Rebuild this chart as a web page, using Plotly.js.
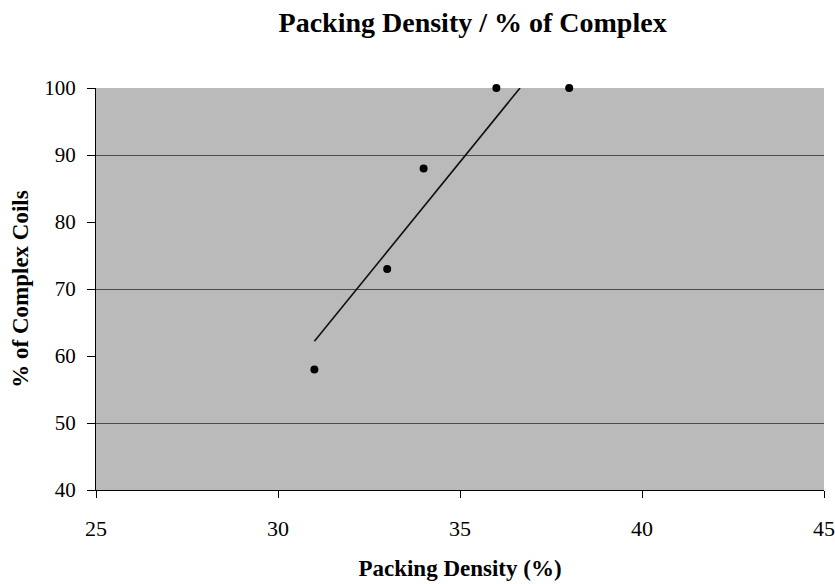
<!DOCTYPE html>
<html>
<head>
<meta charset="utf-8">
<script src="https://cdn.plot.ly/plotly-3.0.1.min.js"></script>
<style>html,body{margin:0;padding:0;background:#fff;}#chart{width:835px;height:584px;}</style>
</head>
<body>
<div id="chart"></div>
<script>
// Data
const packingDensity = [31, 33, 34, 36, 38];
const complexCoils = [58, 73, 88, 100, 100];
// Trend line endpoints as drawn in the reference
const trendX = [31, 36.65];
const trendY = [62.2, 100];
// Axis ticks
const xTicks = [25, 30, 35, 40, 45];
const yTicks = [40, 50, 60, 70, 80, 90, 100];
const yGrid = [50, 70, 90, 100];

const serif = '"Liberation Serif", "Times New Roman", serif';

const traces = [
  {
    x: trendX, y: trendY, type: 'scatter', mode: 'lines',
    line: {color: '#111', width: 1.6}, hoverinfo: 'skip', showlegend: false
  },
  {
    x: packingDensity, y: complexCoils, type: 'scatter', mode: 'markers',
    marker: {color: '#000', size: 8}, cliponaxis: false, showlegend: false
  },
  {
    x: [], y: [], yaxis: 'y2', type: 'scatter', showlegend: false
  }
];

const layout = {
  width: 835, height: 584,
  margin: {l: 96, r: 11, t: 88, b: 94},
  paper_bgcolor: '#ffffff',
  plot_bgcolor: '#bababa',
  showlegend: false,
  font: {family: serif, color: '#000', size: 18},
  title: {
    text: '<b>Packing Density / % of Complex</b>',
    font: {family: serif, size: 28, color: '#000'},
    x: 0.566, xanchor: 'center', y: 0.962, yanchor: 'middle'
  },
  xaxis: {
    range: [25, 45], tickvals: xTicks, ticktext: xTicks.map(String),
    ticks: 'outside', ticklen: 7, tickcolor: '#000', tickwidth: 1,
    showline: true, linecolor: '#000', linewidth: 1, mirror: false,
    showgrid: false, zeroline: false, ticklabelstandoff: 12,
    tickfont: {family: serif, size: 22, color: '#000'},
    title: {text: '<b>Packing Density (%)</b>', font: {family: serif, size: 23, color: '#000'}, standoff: 19}
  },
  yaxis: {
    range: [40, 100], tickvals: yTicks, ticktext: yTicks.map(String),
    ticks: 'outside', ticklen: 8, tickcolor: '#000', tickwidth: 1,
    showline: true, linecolor: '#000', linewidth: 1,
    showgrid: false, zeroline: false, ticklabelstandoff: 7,
    tickfont: {family: serif, size: 21, color: '#000'},
    title: {text: '<b>% of Complex Coils</b>', font: {family: serif, size: 23, color: '#000'}, standoff: 9}
  },
  yaxis2: {
    overlaying: 'y', range: [40, 100], tickvals: yGrid,
    showticklabels: false, ticks: '', showgrid: true,
    gridcolor: '#4a4a4a', gridwidth: 1, zeroline: false, showline: false
  }
};

Plotly.newPlot('chart', traces, layout, {displayModeBar: false, staticPlot: true});
</script>
</body>
</html>
